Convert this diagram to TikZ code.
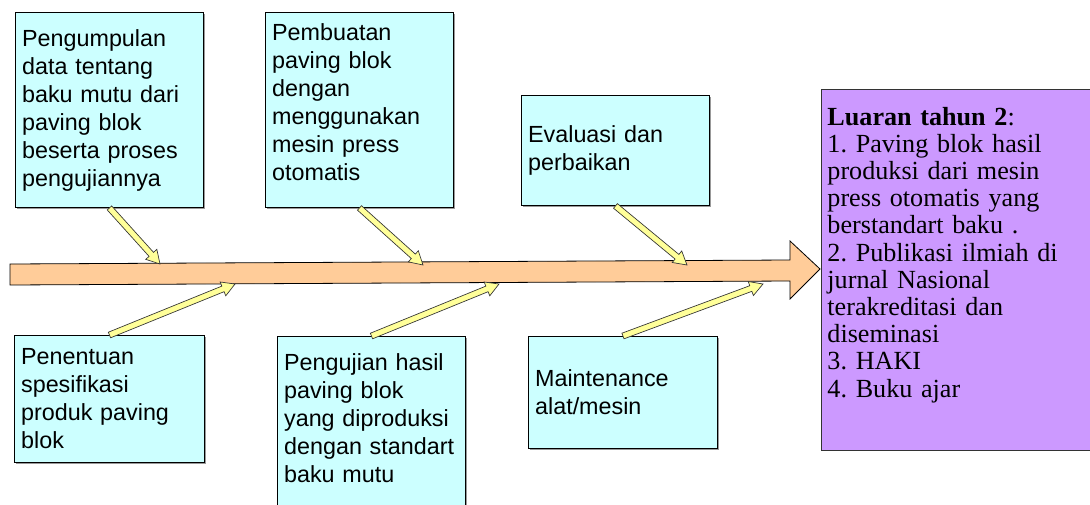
\documentclass[tikz,border=0pt]{standalone}
\usepackage{fontspec}
\setmainfont{Liberation Serif}
\newfontfamily\arialf{Liberation Sans}
\usetikzlibrary{calc,shadows}
\definecolor{boxcyan}{HTML}{CCFFFF}
\definecolor{boxpurple}{HTML}{CC99FF}
\definecolor{spinefill}{HTML}{FFCC99}
\definecolor{arrowyellow}{HTML}{FFFF99}
\frenchspacing
\newcommand\fatarr[2]{%
  \path ($(#2)!9.75pt!(#1)$) coordinate (hb);
  \filldraw[smallarrow] ($(#1)!2.25pt!90:(#2)$) -- ($(hb)!2.25pt!90:(#2)$)
    -- ($(hb)!5.6pt!90:(#2)$) -- (#2) -- ($(hb)!5.6pt!-90:(#2)$)
    -- ($(hb)!2.25pt!-90:(#2)$) -- ($(#1)!2.25pt!-90:(#2)$) -- cycle;}
\tikzset{
  cbox/.style={draw=black, fill=boxcyan, line width=0.7pt, anchor=north west,
    align=left, inner xsep=5pt, inner ysep=0pt,
    font=\arialf\fontsize{17.5pt}{21pt}\selectfont,
    drop shadow={shadow xshift=1.2pt, shadow yshift=-1.2pt, fill=black!40, opacity=1}},
  pbox/.style={draw=black!80, fill=boxpurple, line width=0.7pt, anchor=north west,
    align=left, inner xsep=4.5pt, inner ysep=0pt,
    font=\frenchspacing\fontsize{19.6pt}{20.4pt}\selectfont},
  spine/.style={draw=black, fill=spinefill, line width=0.6pt},
  smallarrow/.style={draw=black!80, fill=arrowyellow, line width=0.5pt, line join=miter}
}
\begin{document}
\begin{tikzpicture}[x=0.75pt,y=-0.75pt]
\useasboundingbox (0,0) rectangle (1090,504);
\clip (0,0) rectangle (1090,504);
% boxes
\node[cbox, text width=131pt, minimum height=146.25pt] (b1) at (15,12)
  {Pengumpulan\\data tentang\\baku mutu dari\\paving blok\\beserta proses\\pengujiannya};
\node[cbox, text width=131pt, minimum height=146.25pt] (b2) at (265,12)
  {Pembuatan\\paving blok\\dengan\\menggunakan\\mesin press\\otomatis\\[-9pt]\mbox{}};
\node[cbox, text width=131pt, minimum height=82.5pt] (b3) at (521,95)
  {Evaluasi dan\\perbaikan};
\node[cbox, text width=132.5pt, minimum height=95.25pt] (b4) at (14,335)
  {Penentuan\\spesifikasi\\produk paving\\blok};
\node[cbox, text width=131pt, minimum height=135pt] (b5) at (277,336)
  {Pengujian hasil\\paving blok\\yang diproduksi\\dengan standart\\baku mutu\\[-8pt]\mbox{}};
\node[cbox, text width=131.75pt, minimum height=84pt] (b6) at (528,336)
  {Maintenance\\alat/mesin};
\node[pbox, text width=215pt, minimum height=270.75pt] (out) at (821,89)
  {\textbf{Luaran tahun 2}:\\1. Paving blok hasil\\produksi dari mesin\\press otomatis yang\\berstandart baku .\\2. Publikasi ilmiah di\\jurnal Nasional\\terakreditasi dan\\diseminasi\\3. HAKI\\4. Buku ajar\\[6.6pt]\mbox{}};
% spine
\filldraw[spine] (10,264) -- (790,260) -- (790,241) -- (820,269) -- (790,299)
  -- (790,281) -- (10,285) -- cycle;
\coordinate (t1) at (160,264);
\coordinate (t2) at (423,265);
\coordinate (t3) at (687,265);
\coordinate (u1) at (235,284);
\coordinate (u2) at (499,284);
\coordinate (u3) at (763,284);
% small arrows
\fatarr{b1.south}{t1}
\fatarr{b2.south}{t2}
\fatarr{b3.south}{t3}
\fatarr{b4.north}{u1}
\fatarr{b5.north}{u2}
\fatarr{b6.north}{u3}
\end{tikzpicture}
\end{document}
